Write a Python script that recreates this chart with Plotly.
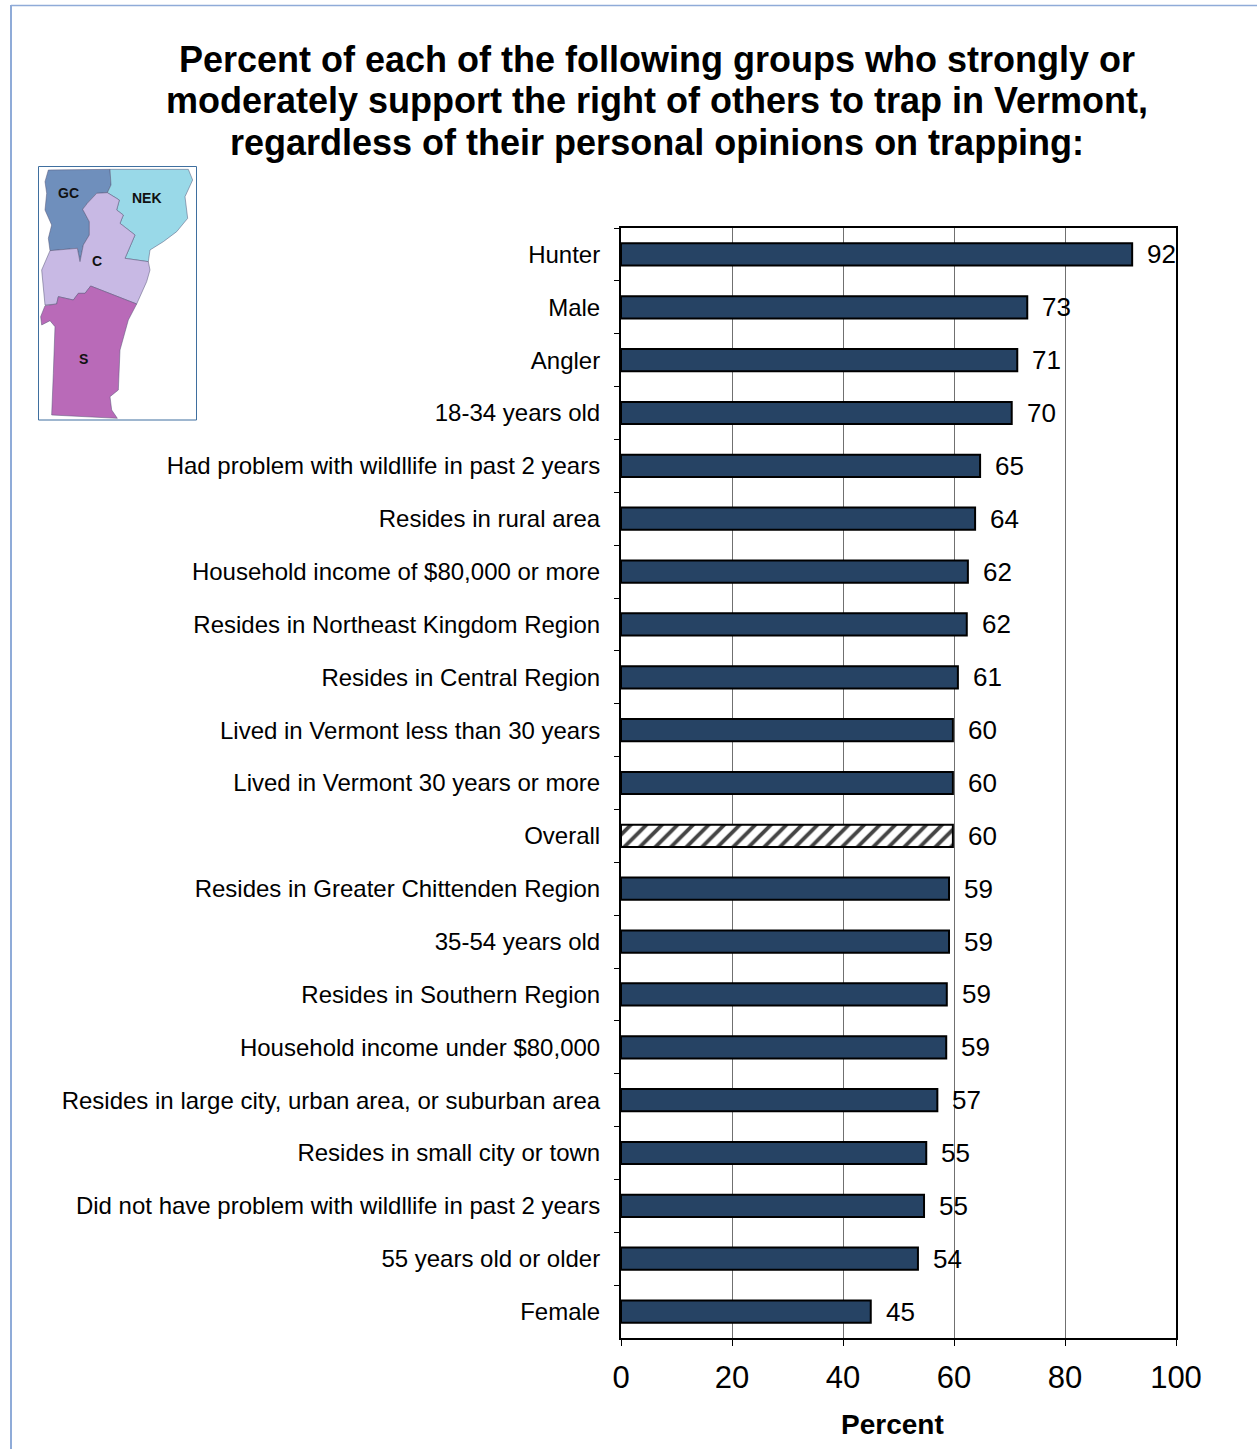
import plotly.graph_objects as go

W, H = 1257, 1449
FONT = "Liberation Sans, Arial, sans-serif"

categories = [
    "Hunter", "Male", "Angler", "18-34 years old",
    "Had problem with wildllife in past 2 years", "Resides in rural area",
    "Household income of $80,000 or more", "Resides in Northeast Kingdom Region",
    "Resides in Central Region", "Lived in Vermont less than 30 years",
    "Lived in Vermont 30 years or more", "Overall",
    "Resides in Greater Chittenden Region", "35-54 years old",
    "Resides in Southern Region", "Household income under $80,000",
    "Resides in large city, urban area, or suburban area",
    "Resides in small city or town",
    "Did not have problem with wildllife in past 2 years",
    "55 years old or older", "Female",
]
values = [92.1, 73.2, 71.4, 70.4, 64.7, 63.8, 62.5, 62.3, 60.7, 59.8, 59.8, 59.8,
          59.1, 59.1, 58.7, 58.6, 57.0, 55.0, 54.6, 53.5, 45.0]
value_labels = [92, 73, 71, 70, 65, 64, 62, 62, 61, 60, 60, 60, 59, 59, 59, 59, 57, 55, 55, 54, 45]
title_lines = [
    "Percent of each of the following groups who strongly or",
    "moderately support the right of others to trap in Vermont,",
    "regardless of their personal opinions on trapping:",
]
x_ticks = [0, 20, 40, 60, 80, 100]

BAR = "#264364"
HATCH = "#2b4a86"
colors = ["white" if c == "Overall" else BAR for c in categories]
patterns = ["/" if c == "Overall" else "" for c in categories]


def px(x):
    return x / W


def py(y):
    return 1 - y / H


fig = go.Figure(go.Bar(
    y=categories, x=values, orientation="h", width=0.42,
    marker=dict(color=colors, line=dict(color="black", width=2),
                pattern=dict(shape=patterns, fgcolor=HATCH, bgcolor="white", fillmode="overlay",
                             fgopacity=1, size=11, solidity=0.35)),
    hoverinfo="x+y", showlegend=False,
))

annotations = []
for cat, val, lab in zip(categories, values, value_labels):
    annotations.append(dict(x=val, y=cat, xref="x", yref="y", text=str(lab), showarrow=False,
                            xanchor="left", yanchor="middle", xshift=13,
                            font=dict(family=FONT, size=26, color="black")))
for line, yy in zip(title_lines, [60, 101, 143]):
    annotations.append(dict(x=px(657), y=py(yy - 0.5), xref="paper", yref="paper", text="<b>%s</b>" % line,
                            showarrow=False, xanchor="center", yanchor="middle",
                            font=dict(family=FONT, size=36, color="black")))
annotations.append(dict(x=px(892), y=py(1424), xref="paper", yref="paper", text="<b>Percent</b>",
                        showarrow=False, xanchor="center", yanchor="middle",
                        font=dict(family=FONT, size=28, color="black")))

# Inset map: outlines traced in a 3x crop of the inset
def zp(points):
    parts = []
    for i, (zx, zy) in enumerate(points):
        parts.append("%s%.5f,%.5f" % ("M" if i == 0 else "L", px(zx / 3), py(160 + zy / 3)))
    return " ".join(parts) + " Z"


regions = {
    "#6f8fbc": [(145,30),(330,28),(333,75),(322,98),(290,100),(262,130),(248,148),(268,185),(268,225),
                (250,255),(240,305),(232,265),(150,272),(145,235),(155,195),(135,150),(140,100),(135,65)],
    "#99d9e8": [(330,28),(565,28),(578,60),(555,110),(563,175),(530,215),(490,245),(450,270),(445,305),
                (375,295),(405,225),(360,190),(370,165),(350,150),(358,120),(322,98),(333,75)],
    "#c8b9e4": [(290,100),(322,98),(358,120),(350,150),(370,165),(360,190),(405,225),(375,295),(445,305),
                (450,330),(440,365),(410,432),(272,378),(255,400),(235,400),(220,420),(175,410),(170,432),
                (135,435),(125,330),(150,272),(232,265),(240,305),(250,255),(268,225),(268,185),(248,148),(262,130)],
    "#b96ab8": [(272,378),(410,432),(385,480),(360,570),(355,690),(330,710),(335,750),(352,775),(155,765),
                (160,640),(165,500),(150,482),(125,495),(122,470),(135,437),(170,432),(175,410),(220,420),
                (235,400),(255,400)],
}
shapes = [
    dict(type="line", xref="paper", yref="paper", x0=px(11), x1=px(11), y0=py(5), y1=0,
         line=dict(color="#8fabd8", width=2)),
    dict(type="line", xref="paper", yref="paper", x0=px(11), x1=1, y0=py(5.5), y1=py(5.5),
         line=dict(color="#8fabd8", width=1.5)),
    dict(type="rect", xref="paper", yref="paper", x0=px(38.5), x1=px(196.5), y0=py(166.5), y1=py(420),
         line=dict(color="#3f6f9f", width=1), fillcolor="white"),
]
for color, pts in regions.items():
    shapes.append(dict(type="path", xref="paper", yref="paper", path=zp(pts), fillcolor=color,
                       line=dict(color="#555577", width=0.5)))
for text, x, y in [("GC", 68, 193), ("NEK", 147, 198), ("C", 97, 261), ("S", 83, 359)]:
    annotations.append(dict(x=px(x), y=py(y), xref="paper", yref="paper", text="<b>%s</b>" % text,
                            showarrow=False, xanchor="center", yanchor="middle",
                            font=dict(family=FONT, size=14, color="#111111")))

fig.update_layout(
    width=W, height=H, autosize=False,
    margin=dict(l=0, r=0, t=0, b=0),
    paper_bgcolor="white", plot_bgcolor="white",
    bargap=0.58,
    shapes=shapes, annotations=annotations,
    font=dict(family=FONT, color="black"),
    xaxis=dict(domain=[px(621), px(1176)], range=[0, 100], tickvals=x_ticks, ticks="outside", ticklen=6,
               automargin=False, ticklabelstandoff=5,
               tickcolor="black", tickwidth=1, tickfont=dict(family=FONT, size=31, color="black"),
               showgrid=True, gridcolor="#707070", gridwidth=1.3, zeroline=False,
               showline=True, linecolor="black", linewidth=2, mirror=True),
    yaxis=dict(domain=[py(1338), py(228)], categoryorder="array", categoryarray=categories,
               automargin=False,
               autorange="reversed", ticks="outside", ticklen=5, tickcolor="black", tickwidth=1,
               tickson="boundaries", ticklabelstandoff=14,
               tickfont=dict(family=FONT, size=24, color="black"),
               showgrid=False, zeroline=False,
               showline=True, linecolor="black", linewidth=2, mirror=True),
)

fig.write_html("out.html", config={"displayModeBar": False},
               post_script="document.body.style.margin='0';document.body.style.overflow='hidden';")
